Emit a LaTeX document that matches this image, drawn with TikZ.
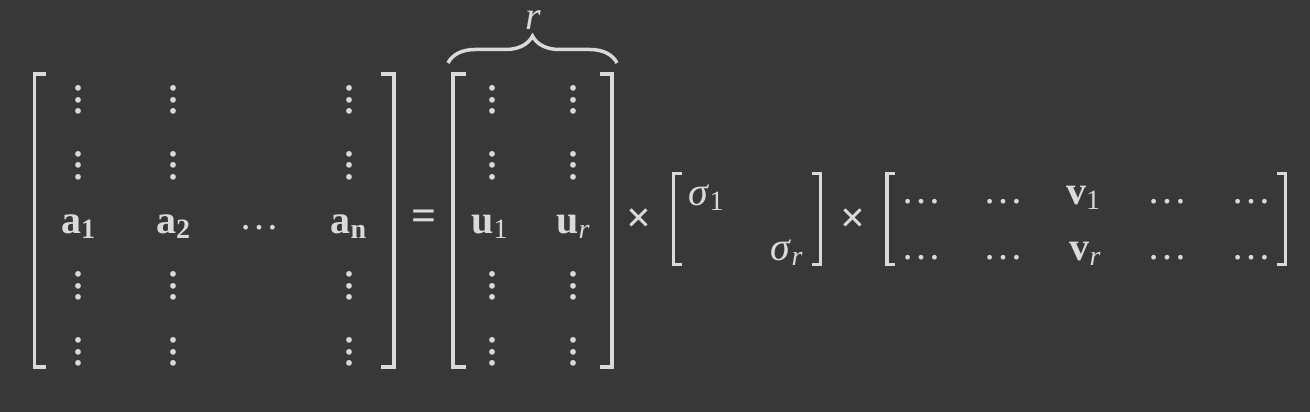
\documentclass[tikz,border=0pt]{standalone}
\usepackage{fontspec}
\setmainfont{Liberation Serif}
\usetikzlibrary{decorations.pathreplacing}
\definecolor{bg}{HTML}{383838}
\definecolor{fg}{HTML}{DADADA}
\newcommand{\lowsub}[1]{\raisebox{-5pt}{\fontsize{28}{30}\selectfont #1}}
\newcommand{\vdts}{\vbox{\baselineskip=11.5pt \lineskiplimit=-20pt \hbox{.}\hbox{.}\hbox{.}}}
\tikzset{
	every node/.style = {text = fg, inner sep = 0pt, font = \fontsize{40}{44}\selectfont},
	ent/.style = {anchor = base},
	dts/.style = {anchor = center, font = \fontsize{48}{50}\selectfont},
	hdts/.style = {anchor = center},
	op/.style = {anchor = center, font = \fontsize{44}{48}\selectfont\bfseries},
	bracket/.style = {draw = fg, line width = 3.5pt},
}
\begin{document}
\begin{tikzpicture} [x = 1pt, y = -1pt]
	\fill [bg] (0, 0) rectangle (1310, 412) ;

	\foreach \x / \e / \t / \b in {34.4/45.6/74/367, 394/380.6/74/367, 453/465.5/74/367, 612/600/74/367, 673.7/682.3/173.7/264.7, 820.3/811.7/173.7/264.7, 887/895/173.7/264.7, 1285.3/1276.7/173.7/264.7}
		\draw [bracket] (\e, \t) -- (\x, \t) -- (\x, \b) -- (\e, \b) ;

	\foreach \c / \x in {1/78.8, 2/173.3, n/349, u1/492.5, ur/573.4}
		\foreach \r / \y in {1/100, 2/165.5, 4/286, 5/352}
			\node [dts] (d\c\r) at (\x, \y) {\vdts} ;

	\node [ent] (a1) at (78, 233) {\textbf{a\lowsub{1}}} ;
	\node [ent] (a2) at (173, 233) {\textbf{a\lowsub{2}}} ;
	\node [hdts] (ad) at (259.6, 227.7) {…} ;
	\node [ent] (an) at (348.5, 233) {\textbf{a\lowsub{n}}} ;
	\node [op] (eq) at (424, 220) {=} ;
	\node [ent] (u1) at (489.6, 233) {\textbf{u}\lowsub{1}} ;
	\node [ent] (ur) at (573, 233) {\textbf{u}\lowsub{\textit{r}}} ;

	\draw [bracket, decorate, decoration = {brace, amplitude = 27pt}] (448, 63) -- (617, 63) ;
	\node [ent] (rk) at (533, 30) {\textit{r}} ;

	\node [op] (x1) at (639.5, 220.5) {×} ;
	\node [ent] (s1) at (706, 205) {\textit{σ}\lowsub{1}} ;
	\node [ent] (sr) at (786.7, 260) {\textit{σ}\lowsub{\textit{r}}} ;
	\node [op] (x2) at (853, 220.5) {×} ;

	\foreach \c / \x in {1/921.7, 2/1003, 4/1167, 5/1251} {
		\node [hdts] (v\c a) at (\x, 201.7) {…} ;
		\node [hdts] (v\c b) at (\x, 257.7) {…} ;
	}
	\node [ent] (v1) at (1083, 204) {\textbf{v}\lowsub{1}} ;
	\node [ent] (vr) at (1085, 260) {\textbf{v}\lowsub{\textit{r}}} ;
\end{tikzpicture}
\end{document}
